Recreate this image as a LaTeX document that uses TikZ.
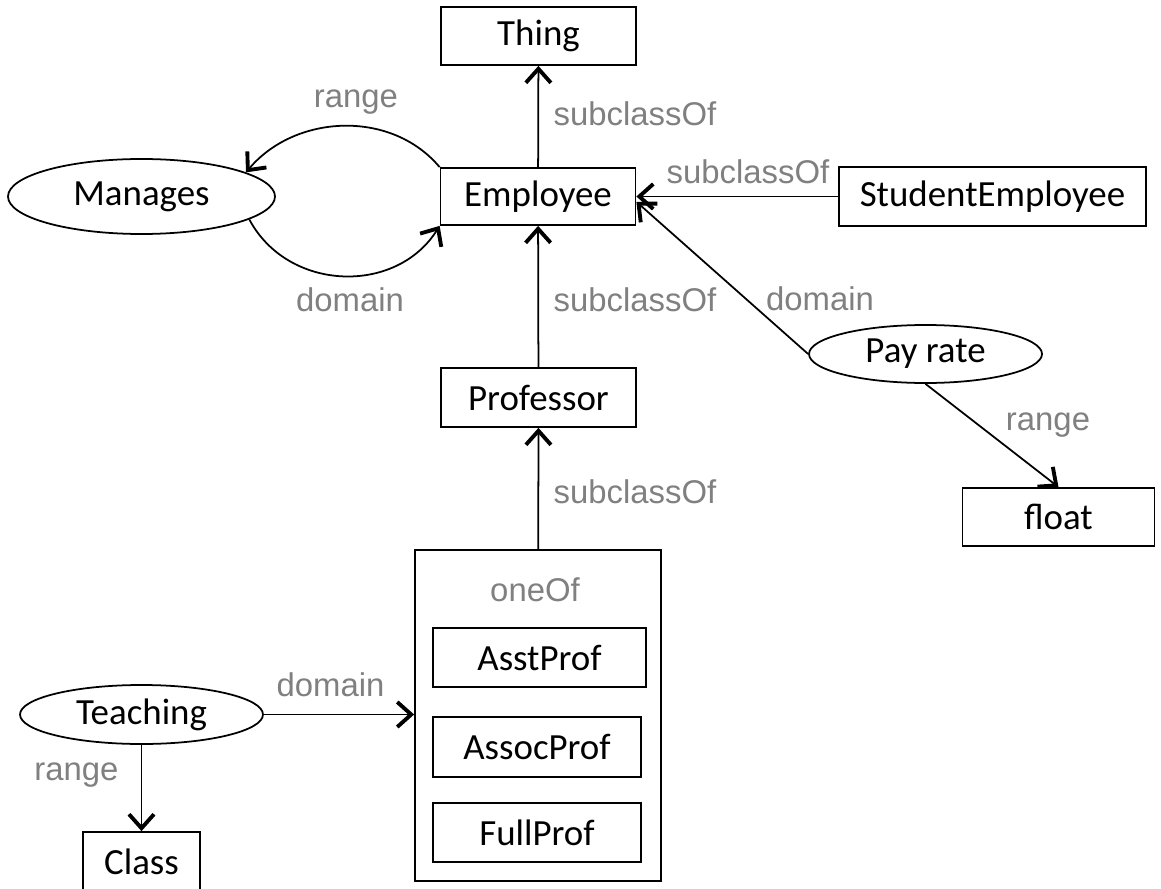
\documentclass[tikz,border=0pt]{standalone}
\usepackage{fontspec}
\setmainfont{Carlito}
\newfontfamily\lblfont{Liberation Sans}
\usetikzlibrary{shapes.geometric,arrows.meta}

\tikzset{
  cls/.style={rectangle, draw, line width=1pt, minimum width=3.9cm,
    minimum height=1.16cm, inner sep=0pt, font=\fontsize{21}{25}\selectfont},
  prop/.style={ellipse, draw, line width=1pt, inner sep=0pt,
    font=\fontsize{21}{25}\selectfont},
  lbl/.style={text=gray, inner sep=0pt, font=\lblfont\fontsize{18.7}{22}\selectfont},
  arr/.style={line width=1pt,
    -{Straight Barb[length=2.8mm,width=5mm,line width=0pt 2.2]}}
}

\begin{document}
\begin{tikzpicture}
        \useasboundingbox (0,0) rectangle (23.22,-17.76);

        \node[cls] (A) at (10.77,-0.72) {Thing};
        \node[cls, minimum height = 1.14cm] (B) at (10.76,-3.93) {Employee};
        \node[cls, minimum height = 1.18cm] (C) at (10.77,-7.95) {Professor};
        \node[cls,
        minimum width = 6.14cm,
        minimum height = 1.18cm,
        ] (D) at (19.85,-3.93) {StudentEmployee};
        \node[cls,
        minimum width = 3.84cm,
        ] (E) at (21.17,-10.34) {float};
        \node[prop,
        minimum width = 5.34cm,
        minimum height = 1.5cm,
        ] (F) at (2.83,-3.93) {Manages};
        \node[prop,
        minimum width = 4.66cm,
        minimum height = 1.16cm,
        ] (G) at (18.51,-7.08) {Pay rate};
        \node[prop,
        minimum width = 4.86cm,
        minimum height = 1.18cm,
        ] (H) at (2.83,-14.29) {Teaching};
        \node[cls,
        minimum width = 2.34cm,
        minimum height = 1.18cm,
        ] (I) at (2.83,-17.23) {Class};

        \node[cls,
        minimum width = 4.92cm,
        minimum height = 6.62cm,
        ] (J) at (10.76,-14.31) {};
        \node[lbl] (O) at (10.7,-11.8) {oneOf};
        \node[cls,
        minimum width = 4.26cm,
        minimum height = 1.18cm,
        ] (K) at (10.79,-13.15) {AsstProf};
        \node[cls,
        minimum width = 4.16cm,
        minimum height = 1.2cm,
        ] (L) at (10.74,-14.94) {AssocProf};
        \node[cls,
        minimum width = 4.16cm,
        minimum height = 1.18cm,
        ] (M) at (10.74,-16.65) {FullProf};

        \draw[arr] (B) -- (A);
        \draw[arr] (D.west) -- (B.east |- D.west);
        \draw[arr] (C) -- (B);
        \draw[arr] (J) -- (C);
        \draw[arr] (G.west) -- ([yshift=-3pt]B.east);
        \draw[arr] (G.south) -- (E.north);
        \draw[arr] (H) -- (J.west |- H);
        \draw[arr] (H) -- (I);
        \draw[arr] (B.north west) to[out=130, in=50] (F.13);
        \draw[arr] (F.-12) to[out=-62, in=-122, looseness=1.1] (B.south west);

        \node[lbl] (s1) at (12.7,-2.27) {subclassOf};
        \node[lbl] (s2) at (14.96,-3.44) {subclassOf};
        \node[lbl] (s3) at (12.7,-6.0) {subclassOf};
        \node[lbl] (s4) at (12.7,-9.84) {subclassOf};
        \node[lbl] (r1) at (7.12,-2.04) {range};
        \node[lbl] (d1) at (7.0,-6.0) {domain};
        \node[lbl] (d2) at (16.4,-5.98) {domain};
        \node[lbl] (r2) at (20.96,-8.5) {range};
        \node[lbl] (d3) at (6.61,-13.7) {domain};
        \node[lbl] (r3) at (1.53,-15.5) {range};
    \end{tikzpicture}
\end{document}
